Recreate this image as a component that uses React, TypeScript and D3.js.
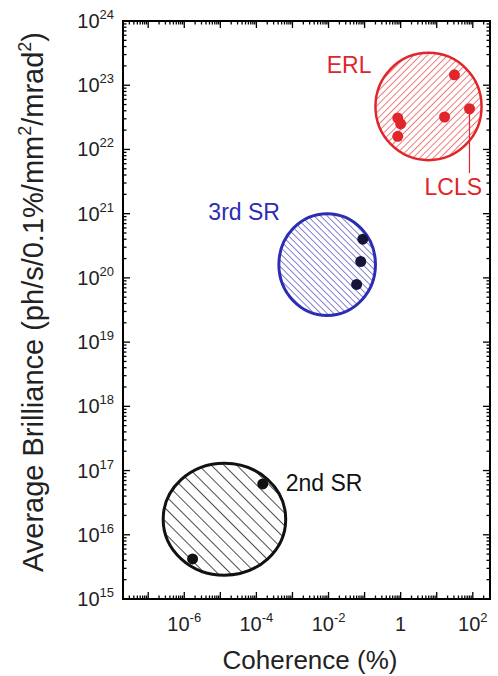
import { useEffect, useRef } from "react";
import * as d3 from "d3";

// regions (ellipses drawn from their data extent)
const regionNames = ["2nd SR", "3rd SR", "ERL"];
const regionCoherenceMin = [2.6e-7, 4.2e-4, 0.2];
const regionCoherenceMax = [6.5e-4, 0.2, 175];
const regionBrillianceMin = [2.35e15, 2.6e19, 6.8e21];
const regionBrillianceMax = [1.3e17, 1.0e21, 3.2e23];

// sources
const secondSrCoherence = [1.5e-4, 1.7e-6];
const secondSrBrilliance = [6.2e16, 4.2e15];
const thirdSrCoherence = [0.089, 0.078, 0.06];
const thirdSrBrilliance = [4.0e20, 1.8e20, 7.9e19];
const erlCoherence = [31, 81, 16.5, 0.83, 1.0, 0.83];
const erlBrilliance = [1.45e23, 4.3e22, 3.2e22, 3.1e22, 2.5e22, 1.6e22];

// annotations (data coords)
const labelTexts = ["2nd SR", "3rd SR", "ERL", "LCLS"];
const labelCoherence = [6.5e-4, 4.5e-4, 0.0089, 4.6];
const labelBrilliance = [4.8e16, 7.9e20, 1.55e23, 1.95e21];
const lclsLeaderEnd = 4.3e21;

// tick labels
const xTickValues = [1e-6, 1e-4, 1e-2, 1, 1e2];
const xTickExponents = ["-6", "-4", "-2", "", "2"];
const yTickExponents = [15, 16, 17, 18, 19, 20, 21, 22, 23, 24];

const FONT = "'Liberation Sans', Arial, Helvetica, sans-serif";

const App = () => {
    const ref = useRef<SVGSVGElement>(null);

    useEffect(() => {
        const svg = d3.select(ref.current);
        svg.selectAll("*").remove();

        const left = 123, right = 490, top = 21, bottom = 599;

        const x = d3.scaleLog().domain([2e-8, 3e2]).range([left, right]);
        const y = d3.scaleLog().domain([1e15, 1e24]).range([bottom, top]);

        const colors = ["#111111", "#2c2cb4", "#e0262b"];
        const dotColors = ["#111111", "#15153a", "#e0262b"];

        // hatch patterns
        const defs = svg.append("defs");
        const hatch = [
            { id: "h0", gap: 9, angle: -45, w: 1.5 },
            { id: "h1", gap: 4.6, angle: -45, w: 1.2 },
            { id: "h2", gap: 4.8, angle: 45, w: 1.2 },
        ];
        hatch.forEach((h, i) => {
            const p = defs.append("pattern")
                .attr("id", h.id)
                .attr("patternUnits", "userSpaceOnUse")
                .attr("width", h.gap)
                .attr("height", h.gap)
                .attr("patternTransform", `rotate(${h.angle})`);
            p.append("line")
                .attr("x1", 0).attr("y1", 0)
                .attr("x2", 0).attr("y2", h.gap)
                .attr("stroke", colors[i])
                .attr("stroke-width", h.w);
        });

        // regions
        regionNames.forEach((_, i) => {
            const x0 = x(regionCoherenceMin[i]), x1 = x(regionCoherenceMax[i]);
            const y0 = y(regionBrillianceMax[i]), y1 = y(regionBrillianceMin[i]);
            svg.append("ellipse")
                .attr("cx", (x0 + x1) / 2)
                .attr("cy", (y0 + y1) / 2)
                .attr("rx", (x1 - x0) / 2)
                .attr("ry", (y1 - y0) / 2)
                .attr("fill", `url(#h${i})`)
                .attr("stroke", colors[i])
                .attr("stroke-width", i === 2 ? 2.5 : 3);
        });

        // points
        const groups = [
            [secondSrCoherence, secondSrBrilliance],
            [thirdSrCoherence, thirdSrBrilliance],
            [erlCoherence, erlBrilliance],
        ];
        groups.forEach(([cx, cy], i) => {
            svg.append("g").selectAll("circle")
                .data(cx)
                .enter()
                .append("circle")
                .attr("cx", d => x(d))
                .attr("cy", (_, j) => y(cy[j]))
                .attr("r", 5.5)
                .attr("fill", dotColors[i]);
        });

        // LCLS leader line
        svg.append("line")
            .attr("x1", x(erlCoherence[1]))
            .attr("x2", x(erlCoherence[1]))
            .attr("y1", y(erlBrilliance[1]) + 4)
            .attr("y2", y(lclsLeaderEnd))
            .attr("stroke", "#e0262b")
            .attr("stroke-width", 1.2);

        // annotation labels
        const labelColors = ["#111111", "#2c2cb4", "#e0262b", "#e0262b"];
        const labelAnchors = ["start", "end", "start", "start"];
        labelTexts.forEach((t, i) => {
            svg.append("text")
                .attr("x", x(labelCoherence[i]))
                .attr("y", y(labelBrilliance[i]))
                .attr("text-anchor", labelAnchors[i])
                .attr("fill", labelColors[i])
                .attr("font-family", FONT)
                .attr("font-size", "23px")
                .text(t);
        });

        // frame
        svg.append("rect")
            .attr("x", left).attr("y", top)
            .attr("width", right - left).attr("height", bottom - top)
            .attr("fill", "none")
            .attr("stroke", "#000")
            .attr("stroke-width", 2);

        // ticks (inside, all four sides)
        const ticks = svg.append("g").attr("stroke", "#000").attr("stroke-width", 1.3);
        const xDec = d3.range(-8, 3);
        xDec.forEach(e => {
            d3.range(1, 10).forEach(m => {
                const v = m * Math.pow(10, e);
                if (v < 2e-8 || v > 3e2) return;
                const len = m === 1 ? 7 : 3.5;
                const px = x(v);
                ticks.append("line").attr("x1", px).attr("x2", px).attr("y1", bottom).attr("y2", bottom - len);
                ticks.append("line").attr("x1", px).attr("x2", px).attr("y1", top).attr("y2", top + len);
            });
        });
        const yDec = d3.range(15, 24);
        yDec.forEach(e => {
            d3.range(1, 10).forEach(m => {
                const v = m * Math.pow(10, e);
                const len = m === 1 ? 7 : 3.5;
                const py = y(v);
                ticks.append("line").attr("x1", left).attr("x2", left + len).attr("y1", py).attr("y2", py);
                ticks.append("line").attr("x1", right).attr("x2", right - len).attr("y1", py).attr("y2", py);
            });
        });
        ticks.append("line").attr("x1", left).attr("x2", left + 7).attr("y1", y(1e24)).attr("y2", y(1e24));
        ticks.append("line").attr("x1", right).attr("x2", right - 7).attr("y1", y(1e24)).attr("y2", y(1e24));

        // x tick labels
        xTickValues.forEach((v, i) => {
            const t = svg.append("text")
                .attr("x", x(v))
                .attr("y", 631)
                .attr("text-anchor", "middle")
                .attr("fill", "#222")
                .attr("font-family", FONT)
                .attr("font-size", "20px");
            if (xTickExponents[i] === "") {
                t.text("1");
            } else {
                t.append("tspan").text("10");
                t.append("tspan").attr("dy", -9).attr("font-size", "13px").text(xTickExponents[i]);
            }
        });

        // y tick labels
        yTickExponents.forEach(e => {
            const t = svg.append("text")
                .attr("x", 114)
                .attr("y", y(Math.pow(10, e)) + 7)
                .attr("text-anchor", "end")
                .attr("fill", "#222")
                .attr("font-family", FONT)
                .attr("font-size", "20px");
            t.append("tspan").text("10");
            t.append("tspan").attr("dy", -9).attr("font-size", "13px").text(String(e));
        });

        // axis titles
        svg.append("text")
            .attr("x", 310)
            .attr("y", 669)
            .attr("text-anchor", "middle")
            .attr("fill", "#222")
            .attr("font-family", FONT)
            .attr("font-size", "26px")
            .text("Coherence (%)");

        const yt = svg.append("text")
            .attr("transform", "translate(43,302) rotate(-90)")
            .attr("text-anchor", "middle")
            .attr("fill", "#222")
            .attr("font-family", FONT)
            .attr("font-size", "29px");
        yt.append("tspan").text("Average Brilliance (ph/s/0.1%/mm");
        yt.append("tspan").attr("dy", -12).attr("font-size", "18px").text("2");
        yt.append("tspan").attr("dy", 12).text("/mrad");
        yt.append("tspan").attr("dy", -12).attr("font-size", "18px").text("2");
        yt.append("tspan").attr("dy", 12).text(")");
    }, []);

    return (
        <svg
            ref={ref}
            width={498}
            height={676}
            style={{ position: "absolute", left: 0, top: 0, background: "#fff" }}
        />
    );
};

export default App;
